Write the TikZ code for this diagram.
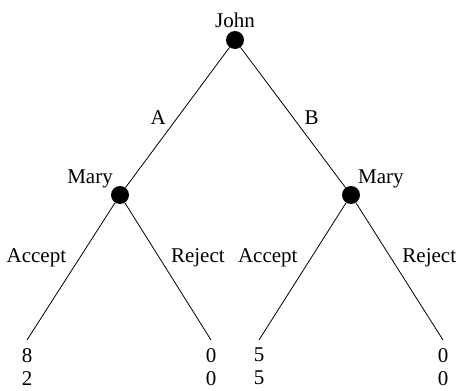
\documentclass[tikz,border=0pt]{standalone}
\usepackage{fontspec}
\setmainfont{Liberation Serif}
\usetikzlibrary{positioning}

\begin{document}
\begin{tikzpicture}[
        x=1pt, y=-1pt,
        font=\fontsize{21}{23}\selectfont,
        dec/.style={circle, fill=black, inner sep=0pt, minimum size=18pt},
        pay/.style={align=center, inner xsep=0pt, inner ysep=8pt, anchor=north},
        br/.style={black, line width=0.8pt}
    ]
        \useasboundingbox (0,0) rectangle (456,391);
        \node[dec, label={[label distance=0pt]above:John}] (john) at (235,40) {};
        \node[dec, label={[label distance=-4pt]above left:Mary}] (maryA) at (120,195) {};
        \node[dec, label={[label distance=-4pt]above right:Mary}] (maryB) at (351,195) {};
        \node[pay] (p1) at (27,340) {8\\2};
        \node[pay] (p2) at (211,340) {0\\0};
        \node[pay] (p3) at (259,340) {5\\5};
        \node[pay] (p4) at (443,340) {0\\0};
        \draw[br] (john) -- node[left=8pt] {A} (maryA);
        \draw[br] (john) -- node[right=8pt] {B} (maryB);
        \draw[br] (maryA) -- node[pos=0.4, left=10pt] {Accept} (p1.north);
        \draw[br] (maryA) -- node[pos=0.4, right=8pt] {Reject} (p2.north);
        \draw[br] (maryB) -- node[pos=0.4, left=10pt] {Accept} (p3.north);
        \draw[br] (maryB) -- node[pos=0.4, right=8pt] {Reject} (p4.north);
    \end{tikzpicture}
\end{document}
